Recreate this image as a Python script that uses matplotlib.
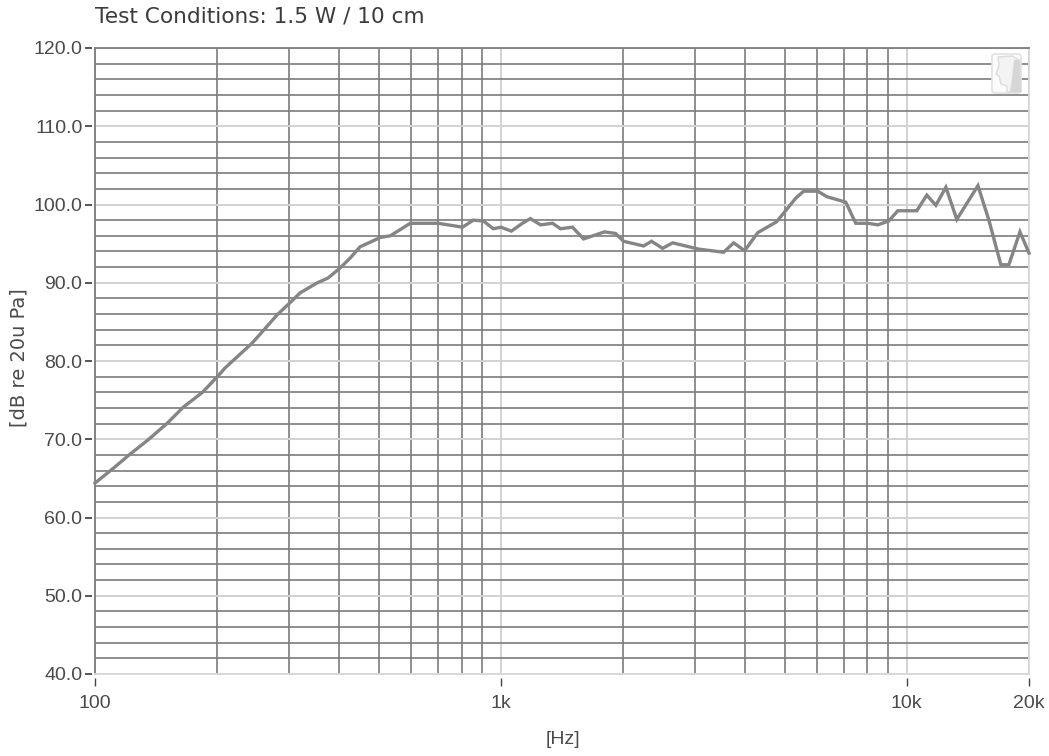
import matplotlib
matplotlib.use("Agg")
import matplotlib.pyplot as plt
from matplotlib.patches import FancyBboxPatch, Polygon

# values
freq_hz = [100, 111, 122, 135, 151, 165, 184, 201, 209, 244, 263, 281, 303, 320,
           353, 375, 402, 426, 450, 477, 505, 534, 598, 701, 804, 855, 905, 958,
           1000, 1061, 1130, 1182, 1252, 1340, 1402, 1501, 1598, 1800, 1917, 2005,
           2246, 2350, 2502, 2649, 3069, 3538, 3745, 3986, 4293, 4780, 4973, 5324,
           5572, 6033, 6350, 7072, 7486, 8013, 8482, 9027, 9502, 10585, 11200,
           11790, 12480, 13280, 14970, 15930, 17050, 17840, 19000, 20000]
spl_db = [64.4, 66.3, 68.1, 69.9, 72.1, 74.1, 76.0, 78.1, 79.1, 82.3, 84.2, 85.9,
          87.5, 88.7, 90.0, 90.6, 91.9, 93.2, 94.6, 95.2, 95.8, 96.0, 97.6, 97.6,
          97.1, 98.0, 97.9, 96.9, 97.1, 96.6, 97.6, 98.2, 97.4, 97.6, 96.9, 97.1,
          95.6, 96.5, 96.3, 95.3, 94.7, 95.3, 94.4, 95.1, 94.3, 93.9, 95.1, 94.1,
          96.4, 97.8, 98.9, 100.8, 101.7, 101.7, 101.0, 100.3, 97.6, 97.6, 97.4,
          97.9, 99.2, 99.2, 101.2, 99.9, 102.2, 98.1, 102.4, 98.0, 92.3, 92.3,
          96.5, 93.8]

x_major = [100, 1000, 10000, 20000]
x_labels = ["100", "1k", "10k", "20k"]
x_minor = [200, 300, 400, 500, 600, 700, 800, 900,
           2000, 3000, 4000, 5000, 6000, 7000, 8000, 9000]
y_major = [40, 50, 60, 70, 80, 90, 100, 110, 120]
y_minor = [v for v in range(40, 120, 2) if v % 10 != 0]

W, H = 1049, 756
TEXT = "#4a4a4a"
TICK_FONT = "Liberation Sans"

fig = plt.figure(figsize=(W / 100, H / 100), dpi=100)
ax = fig.add_axes([95 / W, 1 - 674 / H, (1029 - 95) / W, (674 - 48) / H])

ax.set_xscale("log")
ax.set_xlim(100, 20000)
ax.set_ylim(40, 120)
ax.set_xticks(x_major)
ax.set_xticklabels([])
ax.set_xticks(x_minor, minor=True)
ax.set_xticklabels([], minor=True)
ax.set_yticks(y_major)
ax.set_yticklabels([])
ax.set_yticks(y_minor, minor=True)

ax.grid(True, which="major", color="#d2d2d2", lw=1.4, zorder=1)
ax.grid(True, which="minor", color="#7c7c7c", lw=1.2, zorder=1)
ax.set_axisbelow(True)
ax.tick_params(axis="both", which="both", length=0)

for side in ax.spines:
    ax.spines[side].set_color("#d8d8d8")
    ax.spines[side].set_linewidth(1.3)
ax.spines["left"].set_color("#7c7c7c")
ax.spines["top"].set_color("#7c7c7c")

ax.plot(freq_hz, spl_db, color="#858585", lw=2.4, zorder=4, clip_on=False,
        solid_joinstyle="miter")

# ticks sit a little away from the plot area
sec_x = ax.secondary_xaxis(-0.007)
sec_x.set_xticks(x_major)
sec_x.set_xticklabels(x_labels, family=TICK_FONT, fontsize=14, color=TEXT)
sec_x.xaxis.set_tick_params(which="minor", length=0)
sec_x.tick_params(axis="x", which="major", length=6, width=1.0, color="#444444", pad=6)
sec_x.spines["bottom"].set_visible(False)

sec_y = ax.secondary_yaxis(-0.003)
sec_y.set_yticks(y_major)
sec_y.set_yticklabels([f"{v:.1f}" for v in y_major], family=TICK_FONT, fontsize=14, color=TEXT)
sec_y.tick_params(axis="y", which="major", length=5, width=1.4, color="#555555", pad=2)
sec_y.spines["left"].set_visible(False)

fig.text(95 / W, 1 - 17 / H, "Test Conditions: 1.5 W / 10 cm", fontsize=15.6,
         color="#3c3c3c", ha="left", va="center", family="DejaVu Sans")
fig.text(19 / W, 1 - 358 / H, "[dB re 20u Pa]", rotation=90, fontsize=14,
         color=TEXT, ha="center", va="center", family="DejaVu Sans")
fig.text(563 / W, 1 - 740 / H, "[Hz]", fontsize=14, color=TEXT, ha="center",
         va="center", family=TICK_FONT)

# small watermark head in the top right corner
box = FancyBboxPatch((992 / W, 1 - 93 / H), 29 / W, 39 / H,
                     boxstyle="round,pad=0,rounding_size=0.003",
                     transform=fig.transFigure, fc="#fbfbfb", ec="#e2e2e2", lw=1.2, zorder=6)
fig.add_artist(box)
head = [(998, 57), (1012, 56), (1019, 60), (1021, 92), (1007, 92), (1007, 86),
        (1001, 84), (999, 76), (996, 74), (999, 66)]
fig.add_artist(Polygon([(x / W, 1 - y / H) for x, y in head], closed=True,
                       transform=fig.transFigure, fc="#f3f3f3", ec="#dcdcdc", lw=1, zorder=7))
back = [(1014, 60), (1020, 60), (1021, 92), (1010, 92), (1012, 78)]
fig.add_artist(Polygon([(x / W, 1 - y / H) for x, y in back], closed=True,
                       transform=fig.transFigure, fc="#d6d6d6", ec="none", zorder=8))

fig.savefig("out.png", dpi=100)
